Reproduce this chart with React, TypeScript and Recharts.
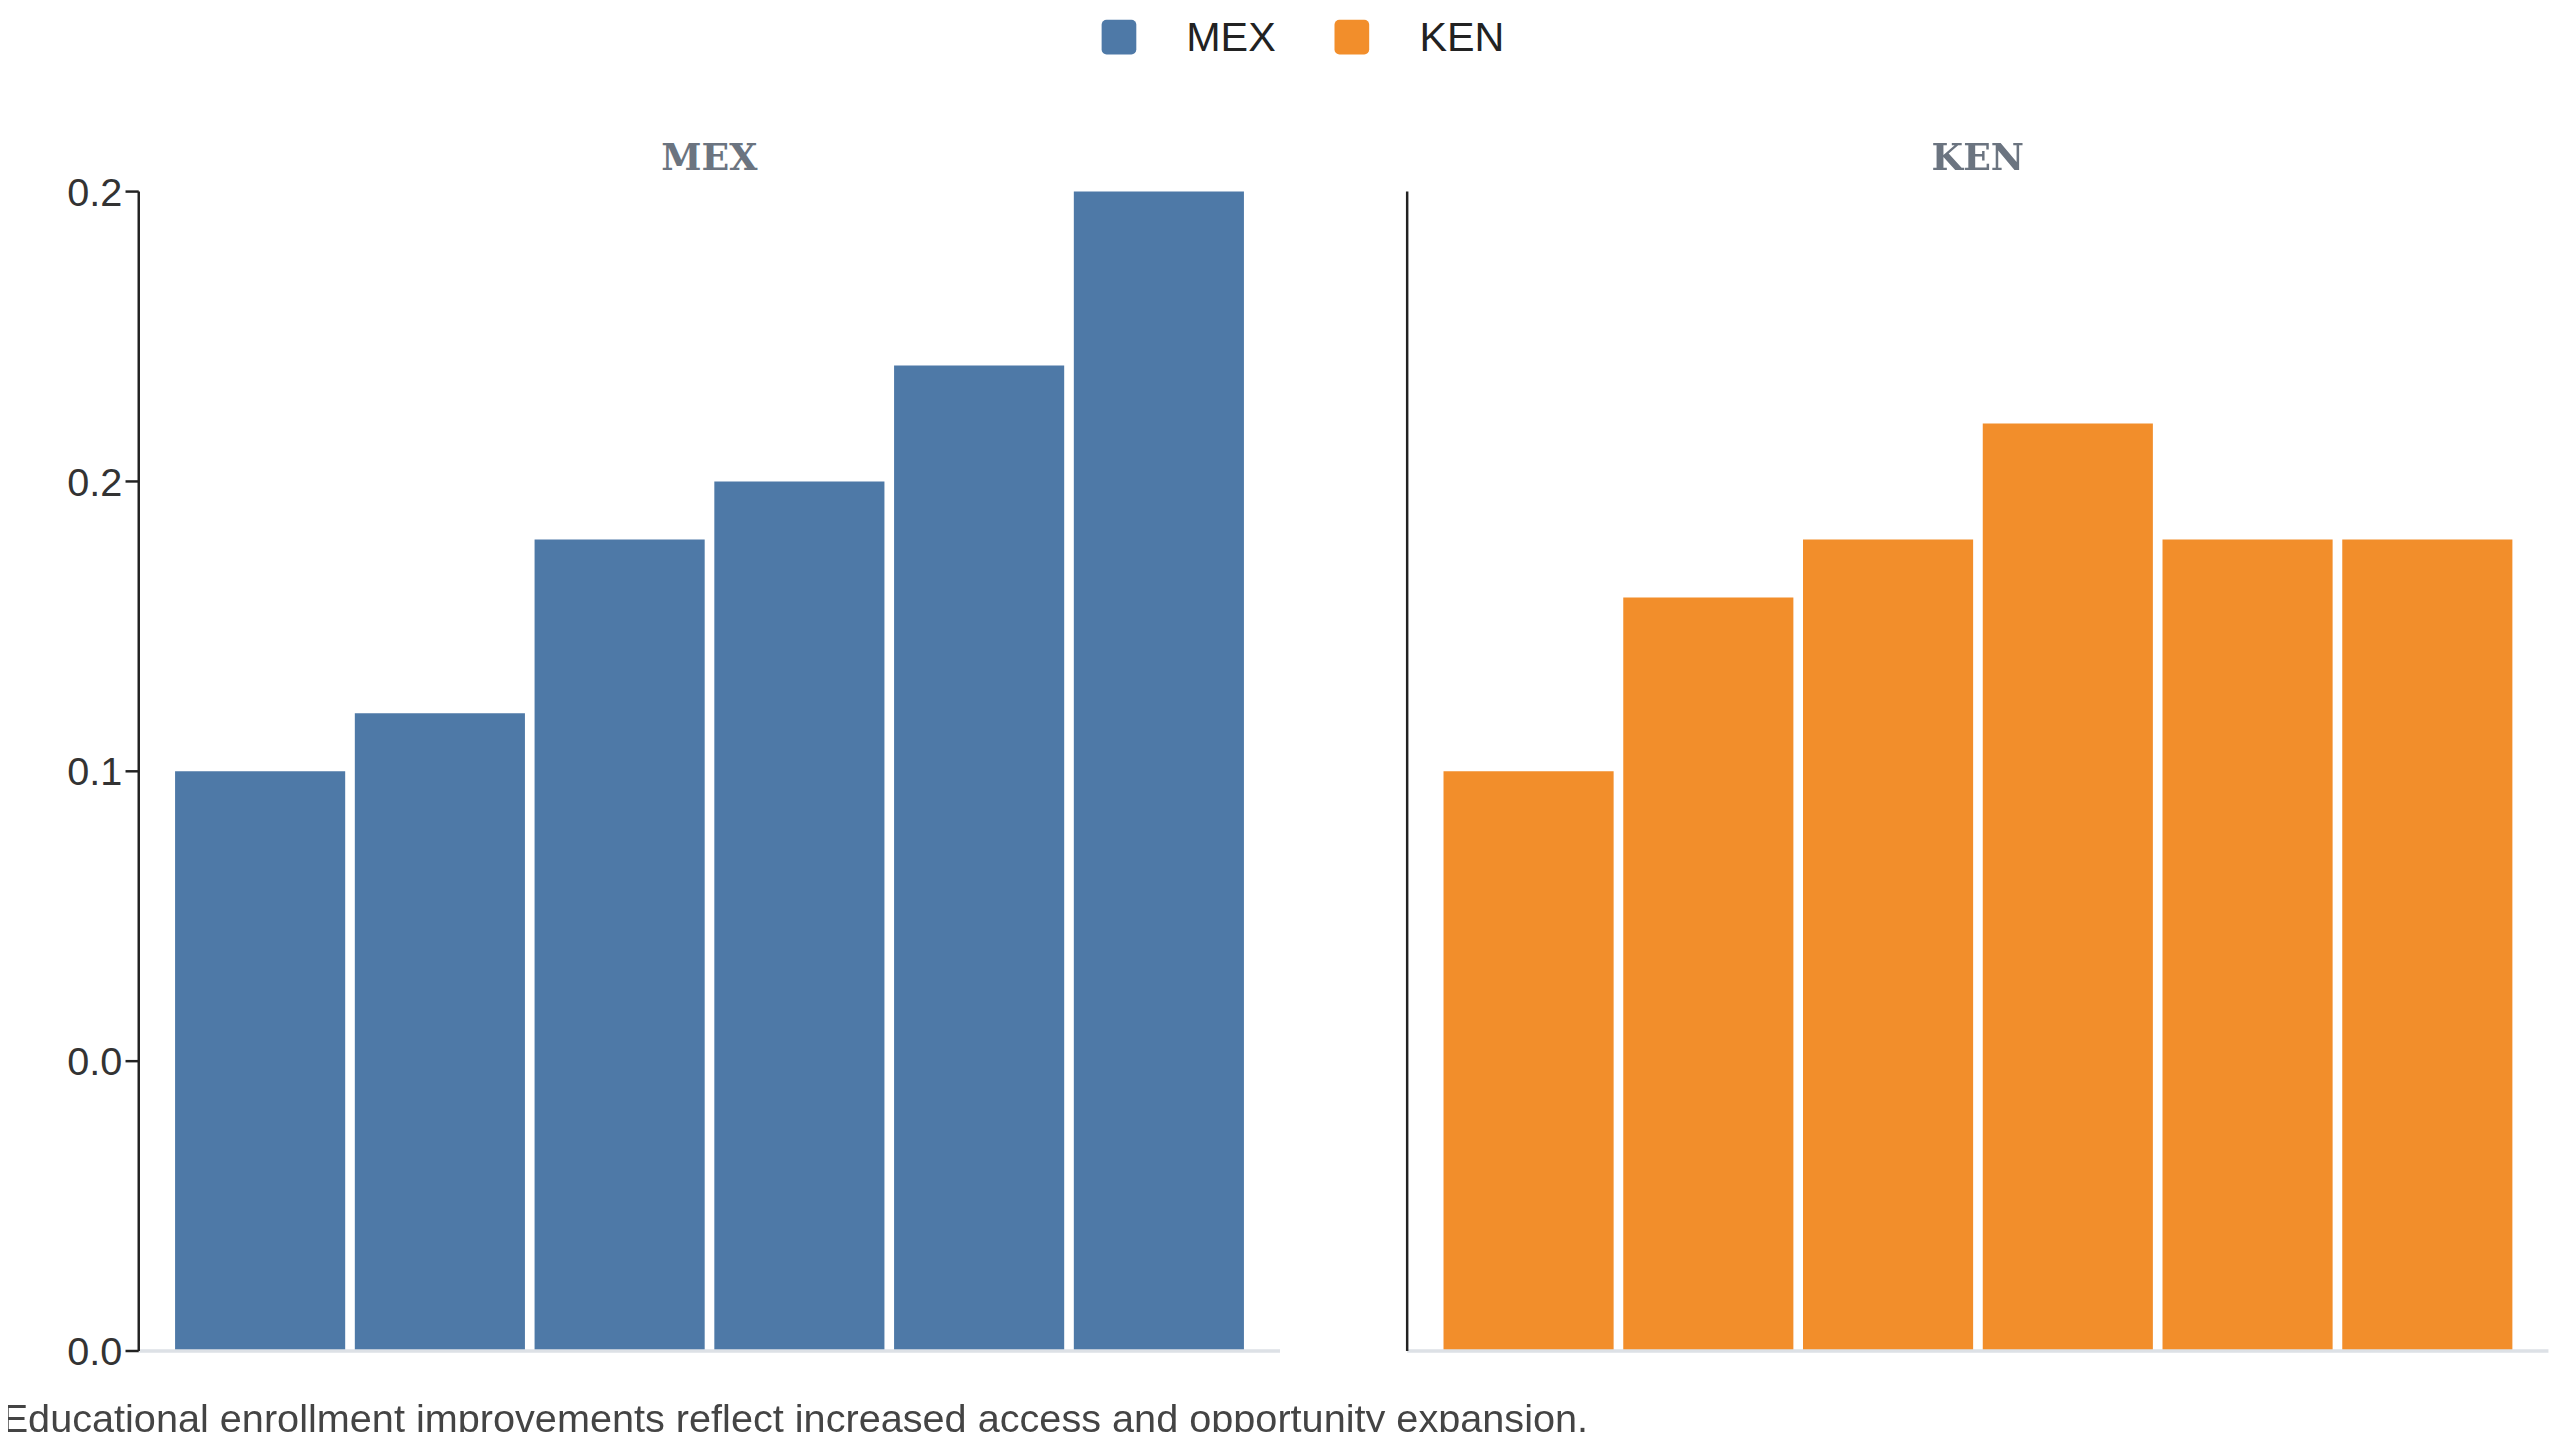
import { BarChart, Bar, XAxis, YAxis } from "recharts";

const periods = ["P1", "P2", "P3", "P4", "P5", "P6"];
const mexValues = [0.1, 0.11, 0.14, 0.15, 0.17, 0.2];
const kenValues = [0.1, 0.13, 0.14, 0.16, 0.14, 0.14];
const yTicks = [0, 0.05, 0.1, 0.15, 0.2];
const yTickLabels = ["0.0", "0.0", "0.1", "0.2", "0.2"];

const BLUE = "#4e79a7";
const ORANGE = "#f28e2b";
const FONT = "Arial, 'Liberation Sans', sans-serif";
const SCALE = 2560 / 1550;

const mexData = periods.map((p, i) => ({ period: p, value: mexValues[i] }));
const kenData = periods.map((p, i) => ({ period: p, value: kenValues[i] }));

function Panel(
  { data, color, title, left, showTicks }:
  { data: { period: string; value: number }[]; color: string; title: string; left: number; showTicks: boolean },
) {
  const yw = 84;
  return (
    <div style={{ position: "absolute", left, top: 0 }}>
      <div style={{
        position: "absolute", left: yw, width: 691, top: 82, textAlign: "center",
        fontFamily: "'DejaVu Serif', 'Liberation Serif', serif", fontWeight: 700, fontSize: 22, color: "#6b7480",
      }}>{title}</div>
      <BarChart width={yw + 691 + 10} height={832} data={data}
                margin={{ top: 116, right: 10, bottom: 12, left: 0 }} barCategoryGap={3}>
        <XAxis dataKey="period" tick={false} tickLine={false} height={2}
               axisLine={{ stroke: "#dde1e6", strokeWidth: 2 }} padding={{ left: 19, right: 19 }} />
        <YAxis width={yw} domain={[0, 0.2]} ticks={yTicks} interval={0}
               axisLine={{ stroke: "#222", strokeWidth: 1.5 }}
               tickLine={showTicks ? { stroke: "#222", strokeWidth: 1.5 } : false}
               tickSize={8}
               tick={showTicks ? { fontSize: 24, fill: "#333", fontFamily: FONT } : false}
               tickFormatter={(v: number) => yTickLabels[yTicks.indexOf(v)] ?? String(v)} />
        <Bar dataKey="value" fill={color} isAnimationActive={false} />
      </BarChart>
    </div>
  );
}

export default function App() {
  return (
    <div style={{ width: 2560, height: 1440, margin: -8, overflow: "hidden", background: "#fff" }}>
      <div style={{
        position: "relative", width: 1550, height: 872, background: "#fff", fontFamily: FONT,
        transform: `scale(${SCALE})`, transformOrigin: "0 0",
      }}>
        <div style={{ position: "absolute", top: 8, left: 0, width: 1578, display: "flex", justifyContent: "center", alignItems: "center", fontSize: 25, color: "#222" }}>
          <span style={{ width: 21, height: 21, background: BLUE, borderRadius: 3, display: "inline-block", marginRight: 30 }} />
          <span style={{ marginRight: 36 }}>MEX</span>
          <span style={{ width: 21, height: 21, background: ORANGE, borderRadius: 3, display: "inline-block", marginRight: 30 }} />
          <span>KEN</span>
        </div>
        <Panel data={mexData} color={BLUE} title="MEX" left={0} showTicks />
        <Panel data={kenData} color={ORANGE} title="KEN" left={768} showTicks={false} />
        <div style={{ position: "absolute", left: 1, top: 845, fontSize: 24, color: "#444", whiteSpace: "nowrap" }}>
          Educational enrollment improvements reflect increased access and opportunity expansion.
        </div>
      </div>
    </div>
  );
}
